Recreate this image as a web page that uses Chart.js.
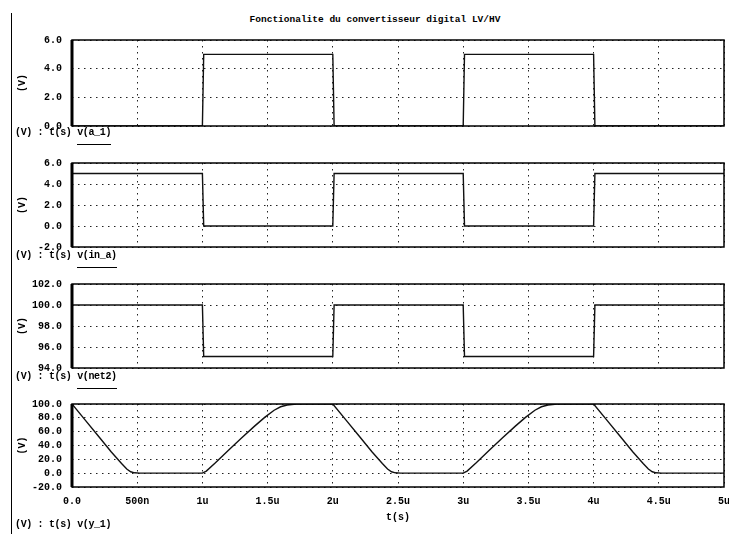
<!DOCTYPE html>
<html>
<head>
<meta charset="utf-8">
<script src="https://cdn.jsdelivr.net/npm/chart.js@4.4.1/dist/chart.umd.min.js"></script>
<style>
  body { margin: 0; background: #fff; width: 729px; height: 534px; position: relative; overflow: hidden;
         font-family: "Liberation Mono", monospace; font-weight: bold; color: #000; }
  canvas { position: absolute; left: 0; }
  .titre { position: absolute; top: 14px; left: 0; width: 750px; text-align: center; font-size: 9.5px; line-height: 12px; white-space: pre; }
  .legende { position: absolute; left: 15px; font-size: 10px; line-height: 12px; white-space: pre; letter-spacing: -0.35px; }
  .legende span { display: inline-block; border-bottom: 1px solid #000; padding-bottom: 5px; }
  .bord { position: absolute; left: 11px; top: 13px; width: 1px; height: 521px; background: #000; }
</style>
</head>
<body>
<div class="bord"></div>
<div class="titre">Fonctionalite du convertisseur digital LV/HV</div>
<canvas id="p0" width="729" height="102"></canvas>
<canvas id="p1" width="729" height="100"></canvas>
<canvas id="p2" width="729" height="100"></canvas>
<canvas id="p3" width="729" height="138"></canvas>
<script>
// temps en microsecondes
var carreT = [0, 1.0, 1.01, 2.0, 2.01, 3.0, 3.01, 4.0, 4.01, 5.0];
var aV     = [0, 0, 5, 5, 0, 0, 5, 5, 0, 0];
var inV    = [5, 5, 0, 0, 5, 5, 0, 0, 5, 5];
var netV   = [100, 100, 95.1, 95.1, 100, 100, 95.1, 95.1, 100, 100];

var yT = [0.00, 0.10, 0.20, 0.30, 0.38, 0.42, 0.45, 0.48, 0.52, 1.00, 1.03, 1.10, 1.20, 1.30, 1.40, 1.48, 1.55, 1.60, 1.65, 1.72,
          2.00, 2.10, 2.20, 2.30, 2.38, 2.42, 2.45, 2.48, 2.52, 3.00, 3.03, 3.10, 3.20, 3.30, 3.40, 3.48, 3.55, 3.60, 3.65, 3.72,
          4.00, 4.10, 4.20, 4.30, 4.38, 4.42, 4.45, 4.48, 4.52, 5.00];
var yV = [100, 77, 54, 31, 14, 6, 2, 0.5, 0, 0, 3, 15, 33, 51, 68, 81, 91, 96, 98.5, 100,
          100, 77, 54, 31, 14, 6, 2, 0.5, 0, 0, 3, 15, 33, 51, 68, 81, 91, 96, 98.5, 100,
          100, 77, 54, 31, 14, 6, 2, 0.5, 0, 0];

var xTickLabels = ['0.0', '500n', '1u', '1.5u', '2u', '2.5u', '3u', '3.5u', '4u', '4.5u', '5u'];
var traceNames = ['v(a_1)', 'v(in_a)', 'v(net2)', 'v(y_1)'];
var yMin = [0, -2, 94, -20];
var yMax = [6, 6, 102, 100];
var yStep = [2, 2, 2, 20];

// position des panneaux : haut du canvas, haut de la legende
var canvasTop = [32, 155, 276, 396];
var legendTop = [127, 250, 371, 519];

var police = { family: 'Liberation Mono', size: 10, weight: 'bold' };

// cadre complet autour de la zone de trace
var cadre = {
  id: 'cadre',
  afterDatasetsDraw: function(chart) {
    var a = chart.chartArea, ctx = chart.ctx;
    ctx.save();
    ctx.strokeStyle = '#000';
    ctx.lineWidth = 1.5;
    ctx.strokeRect(a.left, a.top, a.right - a.left, a.bottom - a.top);
    ctx.lineWidth = 3;
    ctx.beginPath();
    ctx.moveTo(a.left, a.top);
    ctx.lineTo(a.left, a.bottom);
    ctx.stroke();
    ctx.restore();
  }
};

function creerPanneau(i, t, v) {
  var canvas = document.getElementById('p' + i);
  canvas.style.top = canvasTop[i] + 'px';
  var dernier = (i === 3);

  var points = [];
  for (var k = 0; k < t.length; k++) points.push({ x: t[k], y: v[k] });

  new Chart(canvas, {
    type: 'line',
    data: {
      datasets: [{
        data: points,
        borderColor: '#111',
        borderWidth: 1.4,
        pointRadius: 0,
        tension: 0,
        fill: false
      }]
    },
    options: {
      responsive: false,
      animation: false,
      devicePixelRatio: 1,
      layout: { padding: { left: 0, right: 5, top: 8, bottom: dernier ? 0 : 8 } },
      plugins: { legend: { display: false }, tooltip: { enabled: false } },
      scales: {
        x: {
          type: 'linear',
          min: 0,
          max: 5,
          border: { display: false, dash: [1.5, 4.5] },
          grid: { color: '#222', lineWidth: 1, drawTicks: false },
          ticks: {
            display: dernier,
            stepSize: 0.5,
            autoSkip: false,
            maxRotation: 0,
            padding: 8,
            color: '#000',
            font: police,
            callback: function(value, index) { return xTickLabels[index]; }
          },
          title: { display: dernier, text: 't(s)', color: '#000', font: police, padding: { top: 0, bottom: 11 } },
          afterFit: function(scale) {
            scale.height = dernier ? 47 : 0;
            scale.paddingLeft = 0;
            scale.paddingRight = 0;
          }
        },
        y: {
          min: yMin[i],
          max: yMax[i],
          border: { display: false, dash: [1.5, 4.5] },
          grid: { color: '#222', lineWidth: 1, drawTicks: false },
          ticks: {
            stepSize: yStep[i],
            autoSkip: false,
            padding: 10,
            color: '#000',
            font: police,
            callback: function(value) { return value.toFixed(1); }
          },
          title: { display: true, text: '(V)', color: '#000', font: police, padding: { top: 16, bottom: 0 } },
          afterFit: function(scale) {
            scale.width = 72;
            scale.paddingTop = 0;
            scale.paddingBottom = 0;
          }
        }
      }
    },
    plugins: [cadre]
  });

  var leg = document.createElement('div');
  leg.className = 'legende';
  leg.style.top = legendTop[i] + 'px';
  leg.innerHTML = '(V) : t(s) ';
  var nom = document.createElement('span');
  nom.textContent = traceNames[i];
  leg.appendChild(nom);
  document.body.appendChild(leg);
}

creerPanneau(0, carreT, aV);
creerPanneau(1, carreT, inV);
creerPanneau(2, carreT, netV);
creerPanneau(3, yT, yV);
</script>
</body>
</html>
